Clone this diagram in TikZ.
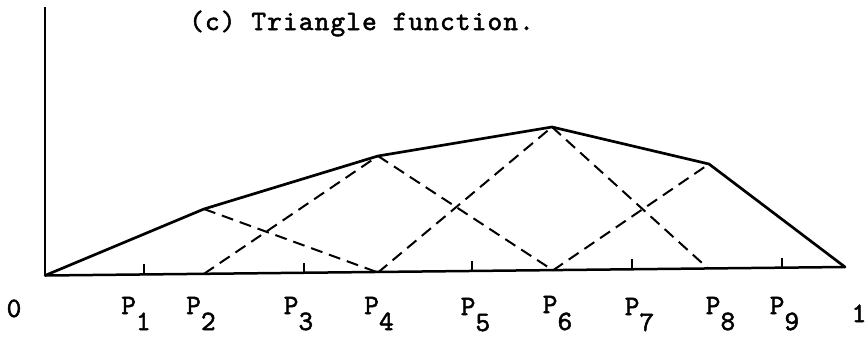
\documentclass[tikz,border=0pt]{standalone}
\usepackage{fontspec}
\newfontfamily\tw[Extension=.otf,LetterSpace=4,FakeBold=1.8]{lmmono10-regular}
\tikzset{
  solidline/.style={line width=2.7pt, line join=round, line cap=round},
  axisline/.style={line width=2.5pt},
  dashline/.style={line width=2pt, dash pattern=on 12pt off 7pt},
  tickline/.style={line width=2pt},
  lbl/.style={inner sep=0pt, font=\tw\fontsize{28}{33}\selectfont},
}
\begin{document}
\begin{tikzpicture}[x=1pt,y=-1pt]
\useasboundingbox (0,0) rectangle (865,338);
% axis points
\coordinate (top) at (45,7);
\coordinate (O) at (45,275.5);
\coordinate (E) at (845,267);
\coordinate (B2) at (204,273.8);
\coordinate (B4) at (378,272.5);
\coordinate (B6) at (553,270.3);
\coordinate (B8) at (708,268.4);
\coordinate (T2) at (204,209);
\coordinate (T4) at (378,156);
\coordinate (T6) at (552,127);
\coordinate (T8) at (709,164);
% ticks
\coordinate (K1) at (144,274.4);
\coordinate (K3) at (304,272.7);
\coordinate (K5) at (472,271.0);
\coordinate (K7) at (632,269.3);
\coordinate (K9) at (782,267.7);
% axes
\draw[axisline] (top) -- (O);
\draw[axisline] (O) -- (E);
\foreach \k in {K1,K3,K5,K7,K9}
  \draw[tickline] (\k) -- ++(0,-10);
% dashed triangles
\draw[dashline] (T2) -- (B4);
\draw[dashline] (B2) -- (T4);
\draw[dashline] (T4) -- (B6);
\draw[dashline] (B4) -- (T6);
\draw[dashline] (T6) -- (B8);
\draw[dashline] (B6) -- (T8);
% solid envelope
\draw[solidline] (O) -- (T2) -- (T4) -- (T6) -- (T8) -- (E);
% labels
\node[lbl, anchor=base west] (title) at (189,30) {(c) Triangle function.};
\node[lbl, anchor=base] (zero) at (14,317) {0};
\node[lbl, anchor=base] (one) at (859,322) {1};
\node[lbl, anchor=base] (p1) at (136,314) {P\raisebox{-16pt}{1}};
\node[lbl, anchor=base] (p2) at (201,314) {P\raisebox{-16pt}{2}};
\node[lbl, anchor=base] (p3) at (298.5,314) {P\raisebox{-16pt}{3}};
\node[lbl, anchor=base] (p4) at (379,314) {P\raisebox{-16pt}{4}};
\node[lbl, anchor=base] (p5) at (475.5,315) {P\raisebox{-16pt}{5}};
\node[lbl, anchor=base] (p6) at (557.5,313) {P\raisebox{-17pt}{6}};
\node[lbl, anchor=base] (p7) at (639.5,315) {P\raisebox{-16pt}{7}};
\node[lbl, anchor=base] (p8) at (720.5,314) {P\raisebox{-16pt}{8}};
\node[lbl, anchor=base] (p9) at (784.5,314) {P\raisebox{-16pt}{9}};
\end{tikzpicture}
\end{document}
